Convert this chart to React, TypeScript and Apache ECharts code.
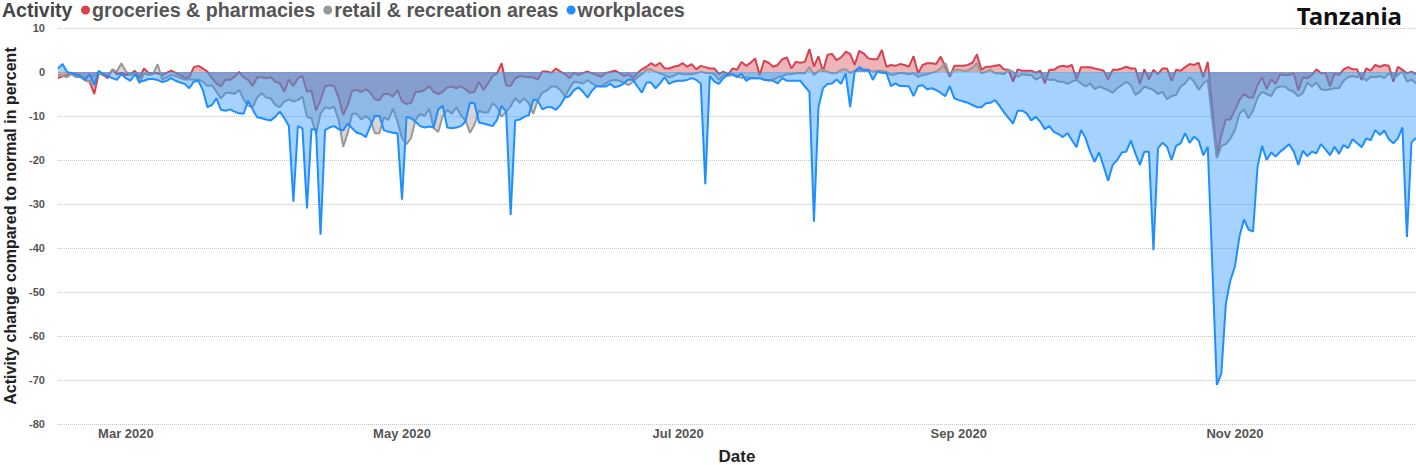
import React, { useEffect, useRef } from "react";
import * as echarts from "echarts";

const START_DATE = "2020-02-15";
const TITLE = "Tanzania";
const LEGEND_TITLE = "Activity";
const X_NAME = "Date";
const Y_NAME = "Activity change compared to normal in percent";
const SERIES_NAMES = ["groceries & pharmacies", "retail & recreation areas", "workplaces"];
const LABEL_MONTHS = ["03", "05", "07", "09", "11"];
const MONTH_NAMES = ["Jan", "Feb", "Mar", "Apr", "May", "Jun", "Jul", "Aug", "Sep", "Oct", "Nov", "Dec"];

const groceries = [
  -1.4, -1, -0.7, -0.3, -0.5, -0.9, -1.8, -2.2, -5, -0.3,
  -0.7, -1.4, 0.6, -0.5, -0.2, -0.7, -0.5, 0.3, -1.4, 0.8,
  -0.2, -0.2, -0.3, -0.7, -0.2, 0.3, -0.2, -0.7, -1.4, -1.2,
  1.1, 1.4, 0.8, 0.1, -1.4, -2.6, -3.3, -1.7, -1.8, -1.1,
  0, -1.2, -1.8, -3.2, -1.2, -1.2, -1.4, -1.2, -2.2, -2.6,
  -4.5, -1.7, -3.2, -1.4, -0.9, -4.5, -4.2, -8.8, -6.4, -3.3,
  -3, -3.2, -5.8, -9.8, -7.5, -4.2, -4.1, -4.5, -3.9, -4.7,
  -6.2, -6.4, -5, -5, -5.6, -4.1, -6.7, -7.3, -7, -4.5,
  -4.5, -4.1, -3.2, -4.5, -5, -4.5, -3.5, -3.3, -3.7, -3.2,
  -3.9, -4.7, -4.5, -2.2, -4.1, -2.6, -0.9, -0.3, 2, -3,
  -3.2, -1.5, -0.9, -1.1, -1.2, -1.2, -1.7, 0.1, 0.1, -0.2,
  0.8, 0.1, -0.5, -1.4, -0.2, -0.7, -0.2, 0.1, -0.3, -0.7,
  -1.1, -0.2, 0, 0.3, -0.2, -0.9, -0.5, -1.4, -0.3, 0.6,
  1.2, 2, 1.4, 2.1, 0.8, 0.8, 1.2, 1.4, 2, 1.2,
  1.8, 0.6, 1.4, 1.1, 0.8, 0.8, -0.5, 0.1, -0.7, 0.8,
  0.5, 2.3, 1.4, 2.1, 3.1, -0.7, 2.6, 2.1, 1.2, 1.6,
  2.9, 3.3, 0.8, 2.3, 2.1, 2.3, 5.2, 1.2, 3.6, 0.1,
  3.9, 4.1, 2.7, 3.3, 4.6, 4.1, 1.6, 4.8, 4.2, 3.1,
  2.9, 2.9, 5, 1.2, 1.6, 1.4, 1.8, 1.6, 1.2, 3.6,
  -0.3, 1.6, 2, 2, 1.8, 3.5, 1.2, -1.1, 1.4, 1.4,
  1.4, 1.6, 2.1, 4, 0.5, 1.2, 1.2, 1.4, 1.6, 0.6,
  0.5, -2.2, 0.6, 0.3, 0.3, 0.3, -0.2, 0.3, -2.6, 0.5,
  0.5, 1.2, 1.4, 1.2, 1.6, -1.7, 1.1, 1.1, 1.1, 0.8,
  0.6, 0.3, -1.7, 0.5, 0.5, 0.8, 1.2, 0.8, 0.8, -2.7,
  0.6, -1.7, 0.5, -0.5, 0.8, 0.8, -2, 0.5, 0.3, 1.1,
  1.8, 1.6, 2.1, -1.2, 2.3, -8, -18.9, -14.3, -10.8, -10.8,
  -8.6, -6.4, -5, -5.8, -5.8, -3, -1.2, -3.9, -1.7, -2.7,
  -0.5, -0.7, -0.7, -0.3, -4.2, -1.2, -1.4, -0.7, 0.6, -0.3,
  -0.2, -3.3, -0.3, -0.7, 0.6, 1.1, 0.6, 0.6, -1.8, 0.8,
  0.3, 1.6, 1.2, 1.6, 1.4, -2.2, 1.2, 0.5, -0.3, 0.1,
  -0.5,
];

const retail = [
  -0.7, -0.9, -1.2, -0.5, -1.2, -1.1, -2, -2.2, -0.7, -0.3,
  -0.5, -0.9, 0.6, 0.1, 2, 0.1, -0.7, -0.2, -2.6, -0.3,
  -0.7, -0.5, 1.8, -1.7, -1.2, -0.7, -0.9, -1.4, -1.7, -1.7,
  -1.7, -1.7, -2.2, -3.2, -3, -4.5, -6, -4.8, -4.7, -5,
  -4.1, -6.2, -7.7, -8, -5.8, -4.8, -5.8, -6, -7.5, -8,
  -6.7, -6.2, -6.7, -6.4, -5.6, -10.2, -10.5, -14.1, -9.5, -8,
  -8.3, -7.9, -10.9, -17, -13.9, -9.5, -9.5, -10.8, -10, -10.9,
  -13.9, -13.9, -10.3, -10.9, -8.3, -11.3, -15, -16.4, -15, -10.8,
  -9.5, -10, -8.3, -12.8, -13.6, -10, -8.6, -9.5, -8, -9.8,
  -11, -13.8, -12, -8.8, -9.2, -9.2, -7.1, -8, -10.2, -9,
  -7.8, -5.9, -7, -6, -7.1, -9.5, -6.4, -4.7, -4.2, -3.3,
  -3.3, -4.1, -5.6, -3.7, -2.2, -2.4, -2.6, -1.8, -2.6, -3.2,
  -3.3, -2.6, -2, -1.8, -2, -2.4, -3, -2.2, -1.2, -0.5,
  0.6, 0.6, 0.1, -0.3, -0.7, -1.2, -0.9, -0.3, -0.5, -0.5,
  -0.5, -0.3, 0.1, -0.2, -0.2, -0.5, -1.8, -0.7, -0.9, -0.7,
  -1.1, -1.3, -1.2, -1.4, -1.4, -1.4, -1.7, -2, -1.7, -1.2,
  -0.9, -0.5, -0.5, -0.3, -0.2, -0.3, 1.2, -0.7, 0.3, 0.5,
  0.1, -0.3, -0.2, 0.5, 0.6, -0.2, 0.3, 0.5, 0.3, 0.5,
  0.1, 0.3, 0.3, 0.1, -0.7, -0.5, -0.2, -0.3, -0.5, -0.3,
  -1.1, -0.7, -0.5, -0.2, 0.1, 0.8, 2.1, -0.7, 0.5, 0.5,
  0.3, 0.3, 1, 2, -0.3, 0.1, 0.5, -0.3, -0.3, -0.5,
  0.5, 0.1, -1.1, -0.5, -0.7, -0.7, -1.7, -1.2, -1.1, -1.8,
  -1.7, -2.2, -2.2, -2.7, -2.2, -1.8, -2.6, -3.3, -2.6, -3.9,
  -3.3, -3.7, -4.1, -4.7, -3.7, -3, -2.2, -3, -5.2, -4.5,
  -3.3, -3.7, -4.1, -5, -4.5, -6.2, -5.5, -5.2, -3.3, -2.6,
  -1.2, -2.2, -4.1, -2.6, -1.8, -10.9, -19.6, -16.8, -16.4, -15.1,
  -13.2, -9.5, -8.5, -10.5, -8.8, -5.8, -4.5, -5, -5.5, -3.7,
  -3.3, -3.3, -4.1, -4.5, -5.5, -4.8, -2.4, -3.3, -2.4, -3.9,
  -4.1, -3.9, -3.7, -3.7, -2, -1.2, -0.9, -1.2, -0.7, -2,
  -1.1, -1.2, -0.9, -1.4, -0.3, -1.4, -0.7, 0.1, -2.2, -1.7,
  -2.6,
];

const workplaces = [
  0.8, 1.8, 0, -0.3, -0.7, -1.1, -1.7, -0.5, -3, 0.3,
  -0.5, -1, -1.4, -1.8, -0.5, -1.4, -2, -0.5, -2.2, -2,
  -1.6, -1.6, -1.8, -2.3, -2, -1.4, -2, -2.4, -2.7, -3.7,
  -2.2, -2, -4.1, -8, -7.5, -6, -8.6, -8.8, -8.5, -9,
  -9.4, -9.5, -6.5, -8.5, -10.3, -10.5, -10.8, -11, -10.2, -9,
  -10.5, -12.3, -29.5, -12.3, -12.8, -31, -13, -13, -37, -13.2,
  -12.6, -12.3, -13, -13.3, -11.7, -12.8, -13.8, -14.1, -14.8, -12.3,
  -10, -10, -13.2, -13.6, -13.8, -13.9, -29, -10.2, -10.5, -11.3,
  -12.3, -12.6, -12.4, -12.6, -8.5, -7.7, -12.6, -12.8, -12.6, -12.3,
  -11.3, -7, -7.1, -11.5, -11.7, -12, -12.3, -10.9, -7.7, -9,
  -32.5, -11, -10.8, -10.2, -9.8, -6.3, -6.5, -8.5, -8, -8,
  -8.6, -7.5, -5.8, -5.5, -4.1, -3.5, -4.5, -5.8, -4.2, -3.2,
  -3.3, -3.3, -2.7, -3.5, -3.2, -2.6, -1.7, -1.8, -3.3, -4.7,
  -2.4, -2.4, -3.7, -2.6, -1.2, -2.7, -2.2, -2, -2, -1.8,
  -1.4, -1.8, -2.6, -25.5, -0.9, -2.2, -2.7, -1.4, -0.5, -0.5,
  -1.1, -0.4, -2, -1.4, -1.4, -1.4, -1.8, -1.8, -2, -2.6,
  -1.4, -2, -2, -2, -2, -3.3, -4.5, -34, -8, -3.7,
  -2.7, -2.6, -1.7, -2.7, -0.3, -8, 0.1, 1.1, 0.5, 0.5,
  -1.8, 0.1, -0.2, -0.2, -3.2, -2.6, -3.2, -3.2, -3.3, -5.5,
  -3.2, -3, -3.9, -3.7, -4.1, -4.7, -5.5, -3.2, -6, -6.4,
  -6.7, -7, -7.5, -8, -8, -7.1, -7, -6.4, -7.7, -9.2,
  -10.5, -11.7, -8.8, -8.8, -9.4, -11, -10.2, -11.3, -13, -12.3,
  -13.6, -14.1, -14.8, -13.9, -15.5, -17.1, -13.2, -15, -18.1, -20.4,
  -18.3, -21.5, -24.7, -21.1, -20, -18.3, -18.1, -15.6, -18.5, -21.1,
  -18.1, -18.1, -40.5, -17.3, -16.1, -17, -20, -16.8, -16.2, -13.9,
  -16.1, -14.7, -15.6, -18.9, -17, -44, -71.1, -68.5, -52.6, -47.3,
  -44.2, -37.4, -33.5, -35.8, -36.3, -21.5, -16.8, -20, -18.3, -19.2,
  -18.1, -17.3, -16.4, -18.1, -21.1, -17.9, -19.1, -18.1, -18.5, -16.4,
  -17.6, -18.9, -17, -18.6, -16.6, -17.3, -15.3, -16.2, -17.1, -15.1,
  -15.5, -13.2, -14.3, -13.3, -15.3, -16.2, -15.1, -12.6, -37.5, -16,
  -15,
];

const Y_MIN = -80;
const Y_MAX = 10;
const Y_STEP = 10;

function buildDates(n: number): string[] {
  const start = Date.parse(START_DATE + "T00:00:00Z");
  const out: string[] = [];
  for (let i = 0; i < n; i++) {
    out.push(new Date(start + i * 86400000).toISOString().slice(0, 10));
  }
  return out;
}

export default function App() {
  const ref = useRef<HTMLDivElement>(null);

  useEffect(() => {
    if (!ref.current) return;
    const chart = echarts.init(ref.current, undefined, { renderer: "svg" });
    const dates = buildDates(groceries.length);
    const font = "Liberation Sans";
    const colors = ["#d6434f", "#999999", "#1e8fff"];
    const seriesData = [groceries, retail, workplaces];

    chart.setOption({
      animation: false,
      backgroundColor: "#ffffff",
      color: colors,
      title: {
        text: TITLE,
        right: 9,
        top: -2,
        textStyle: { fontFamily: "Noto Sans", fontWeight: "bold", fontSize: 24, color: "#111" },
      },
      graphic: [
        {
          type: "text",
          left: 2,
          top: 0,
          style: { text: LEGEND_TITLE, font: `bold 19.5px "${font}"`, fill: "#454545" },
        },
      ],
      legend: {
        left: 81,
        top: 0,
        padding: 0,
        icon: "circle",
        itemWidth: 9,
        itemHeight: 9,
        itemGap: 8,
        data: SERIES_NAMES,
        textStyle: {
          fontFamily: font,
          fontWeight: "bold",
          fontSize: 19.7,
          color: "#555",
          padding: [0, 0, 0, -3],
        },
      },
      grid: { left: 58, right: 0, top: 28, bottom: 41, containLabel: false, outerBoundsMode: "none" },
      xAxis: {
        type: "category",
        data: dates,
        boundaryGap: false,
        name: X_NAME,
        nameLocation: "middle",
        nameGap: 24,
        nameTextStyle: { fontFamily: font, fontWeight: "bold", fontSize: 17, color: "#222" },
        axisLine: { show: false },
        axisTick: { show: false },
        splitLine: { show: false },
        axisLabel: {
          margin: 3,
          fontFamily: font,
          fontWeight: "bold",
          fontSize: 13,
          color: "#555",
          interval: (_i: number, v: string) => v.slice(8, 10) === "01" && LABEL_MONTHS.includes(v.slice(5, 7)),
          formatter: (v: string) => `${MONTH_NAMES[parseInt(v.slice(5, 7), 10) - 1]} ${v.slice(0, 4)}`,
        },
      },
      yAxis: {
        type: "value",
        min: Y_MIN,
        max: Y_MAX,
        interval: Y_STEP,
        name: Y_NAME,
        nameLocation: "middle",
        nameGap: 40,
        nameTextStyle: { fontFamily: font, fontWeight: "bold", fontSize: 16, color: "#222" },
        axisLine: { show: false },
        axisTick: { show: false },
        axisLabel: { margin: 13, fontFamily: font, fontWeight: "bold", fontSize: 11, color: "#555" },
        splitLine: { show: true, lineStyle: { type: "dotted", color: "#c4c4c4", width: 1 } },
      },
      series: SERIES_NAMES.map((name, i) => ({
        name,
        type: "line",
        data: seriesData[i],
        showSymbol: false,
        symbol: "none",
        lineStyle: { width: 2, color: colors[i] },
        itemStyle: { color: colors[i] },
        areaStyle: { color: colors[i], opacity: 0.4 },
        z: 2 + i,
      })),
    });

    return () => chart.dispose();
  }, []);

  return <div ref={ref} style={{ position: "fixed", left: 0, top: 0, width: 1416, height: 465 }} />;
}
